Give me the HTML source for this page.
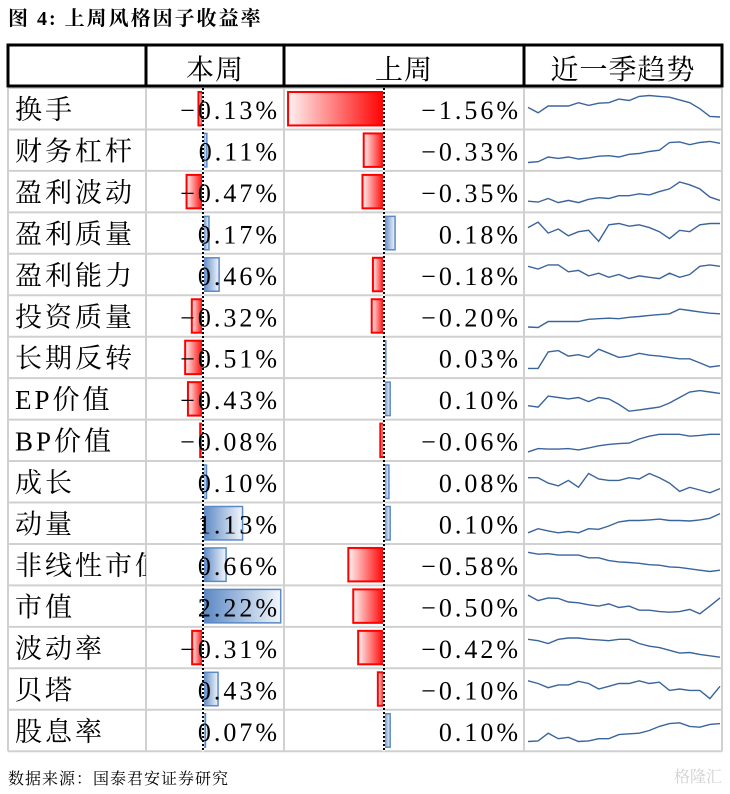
<!DOCTYPE html>
<html><head><meta charset="utf-8">
<style>
html,body{margin:0;padding:0;background:#fff;}
svg{display:block;}
text{font-family:"Liberation Serif","Noto Serif CJK SC",serif;fill:#000;}
</style></head>
<body>
<svg id="chart" width="730" height="794" viewBox="0 0 730 794" xmlns="http://www.w3.org/2000/svg">
<defs>
<linearGradient id="gRed" x1="0" x2="1" y1="0" y2="0"><stop offset="0" stop-color="#fff2f2"/><stop offset="1" stop-color="#ff0000"/></linearGradient>
<linearGradient id="gBlue" x1="0" x2="1" y1="0" y2="0"><stop offset="0" stop-color="#5a87c4"/><stop offset="1" stop-color="#f2f6fb"/></linearGradient>
<clipPath id="nameClip"><rect x="8" y="80" width="138" height="700"/></clipPath>
</defs>
<text x="8" y="25" font-size="20" font-weight="bold" letter-spacing="2">图 4:  上周风格因子收益率</text>
<g id="grid"></g>
<g id="bars"></g>
<g id="labels"></g>
<g id="names" clip-path="url(#nameClip)"></g>
<g id="sparks"></g>
<g>
<rect x="8" y="45" width="714" height="41" fill="none" stroke="#000" stroke-width="3"/>
<line x1="146" y1="45" x2="146" y2="86" stroke="#000" stroke-width="3"/>
<line x1="284" y1="45" x2="284" y2="86" stroke="#000" stroke-width="3"/>
<line x1="524" y1="45" x2="524" y2="86" stroke="#000" stroke-width="3"/>
<text x="215" y="79" font-size="28" text-anchor="middle" letter-spacing="1">本周</text>
<text x="404" y="79" font-size="28" text-anchor="middle" letter-spacing="1">上周</text>
<text x="623" y="79" font-size="28" text-anchor="middle" letter-spacing="1">近一季趋势</text>
</g>
<text x="8" y="784" font-size="16" letter-spacing="1">数据来源：国泰君安证券研究</text>
<text x="722" y="782" font-size="16" text-anchor="end" style="fill:#d0d0d0">格隆汇</text>
</svg>
<script>
const factors=["换手","财务杠杆","盈利波动","盈利质量","盈利能力","投资质量","长期反转","EP价值","BP价值","成长","动量","非线性市值","市值","波动率","贝塔","股息率"];
const thisWeek=[-0.13,0.11,-0.47,0.17,0.46,-0.32,-0.51,-0.43,-0.08,0.10,1.13,0.66,2.22,-0.31,0.43,0.07];
const lastWeek=[-1.56,-0.33,-0.35,0.18,-0.18,-0.20,0.03,0.10,-0.06,0.08,0.10,-0.58,-0.50,-0.42,-0.10,0.10];
const trend1=[55,35,60,60,60,72,62,70,72,85,80,95,98,95,92,82,72,50,22,20];
const trend2=[5,8,25,20,25,18,22,28,30,25,35,38,45,50,78,80,70,78,82,75];
const trend3=[15,12,25,10,18,10,22,28,25,35,35,42,38,50,60,85,75,60,30,18];
const trend4=[70,90,50,65,40,55,60,20,80,85,75,80,70,55,30,60,55,80,85,85];
const trend5=[80,70,85,85,60,65,45,55,40,50,35,45,40,35,55,40,50,80,85,80];
const trend6=[10,8,30,30,30,30,38,40,42,40,45,48,52,55,58,75,70,65,60,58];
const trend7=[10,10,70,75,55,60,50,80,65,50,55,65,58,55,50,45,45,30,15,20];
const trend8=[25,20,60,55,50,55,40,55,50,30,5,10,15,20,35,55,75,80,75,70];
const trend9=[8,20,18,18,20,15,22,30,35,38,40,55,65,72,72,72,65,68,72,72];
const trend10=[65,65,45,35,55,30,80,60,55,55,65,60,80,65,45,15,30,20,10,25];
const trend11=[15,30,22,15,20,15,30,28,40,55,60,60,62,65,60,60,58,62,68,85];
const trend12=[95,88,90,85,85,85,75,75,65,60,58,55,50,48,42,40,35,30,25,30];
const trend13=[90,70,80,78,65,62,55,50,58,45,50,35,35,30,28,30,38,22,50,80];
const trend14=[80,75,65,80,85,85,80,78,75,80,80,65,55,50,40,30,32,25,20,15];
const trend15=[80,70,55,65,65,78,70,50,60,70,70,80,70,75,45,50,45,45,15,60];
const trend16=[10,12,40,20,25,10,12,20,20,35,38,40,50,65,75,78,65,62,72,75];
const trends=[trend1,trend2,trend3,trend4,trend5,trend6,trend7,trend8,trend9,trend10,trend11,trend12,trend13,trend14,trend15,trend16];

const NS="http://www.w3.org/2000/svg";
const top0=88, rowH=41.45;
const xThis=v=>203+v*35;
const xLast=v=>384+v*61.5;
function mk(tag,attrs,parent){const e=document.createElementNS(NS,tag);for(const k in attrs)e.setAttribute(k,attrs[k]);parent.appendChild(e);return e;}
const grid=document.getElementById('grid'),bars=document.getElementById('bars'),labels=document.getElementById('labels'),names=document.getElementById('names'),sparks=document.getElementById('sparks');
const fmt=v=>(v<0?"−":"")+Math.abs(v).toFixed(2)+"%";
const n=factors.length;
const bottom=top0+n*rowH;
for(let i=0;i<=n;i++){const y=top0+i*rowH;mk('line',{x1:8,x2:722,y1:y,y2:y,stroke:'#d0d0d0','stroke-width':2},grid);}
[8,146,284,524,722].forEach(x=>mk('line',{x1:x,x2:x,y1:top0,y2:bottom,stroke:'#d0d0d0','stroke-width':2},grid));
factors.forEach((f,i)=>{
  const y=top0+i*rowH;
  const b1=thisWeek[i], b2=lastWeek[i];
  const r1=mk('rect',{x:Math.min(xThis(0),xThis(b1)),y:y+4,width:Math.abs(xThis(b1)-xThis(0)),height:rowH-8,fill:b1<0?'url(#gRed)':'url(#gBlue)',stroke:b1<0?'#ff0000':'#5b8ac6','stroke-width':b1<0?2:1.5},bars);
  
  
  const r2=mk('rect',{x:Math.min(xLast(0),xLast(b2)),y:y+4,width:Math.abs(xLast(b2)-xLast(0)),height:rowH-8,fill:b2<0?'url(#gRed)':'url(#gBlue)',stroke:b2<0?'#ff0000':'#5b8ac6','stroke-width':b2<0?2:1.5},bars);
  
  
  const t0=mk('text',{x:15,y:y+31,'font-size':27,'letter-spacing':3},names);t0.textContent=f;
  
  
  const t1=mk('text',{x:280,y:y+31,'font-size':26,'text-anchor':'end','letter-spacing':3},labels);t1.textContent=fmt(b1);
  
  
  const t2=mk('text',{x:521,y:y+31,'font-size':26,'text-anchor':'end','letter-spacing':3},labels);t2.textContent=fmt(b2);
  
  
  const d=trends[i];
  const pts=d.map((v,j)=>(528+j*(192/(d.length-1))).toFixed(1)+","+(y+rowH-7-v/100*(rowH-14)).toFixed(1)).join(" ");
  const pl=mk('polyline',{points:pts,fill:'none',stroke:'#3a649c','stroke-width':1.4},sparks);
  
  
});
[xThis(0),xLast(0)].forEach(x=>{
  mk('line',{x1:x,x2:x,y1:top0,y2:bottom,stroke:'#fff','stroke-width':2},bars);
  const l=mk('line',{x1:x,x2:x,y1:top0,y2:bottom,stroke:'#000','stroke-width':2,'stroke-dasharray':'2,2'},bars);
  
  
});
</script>
</body></html>
